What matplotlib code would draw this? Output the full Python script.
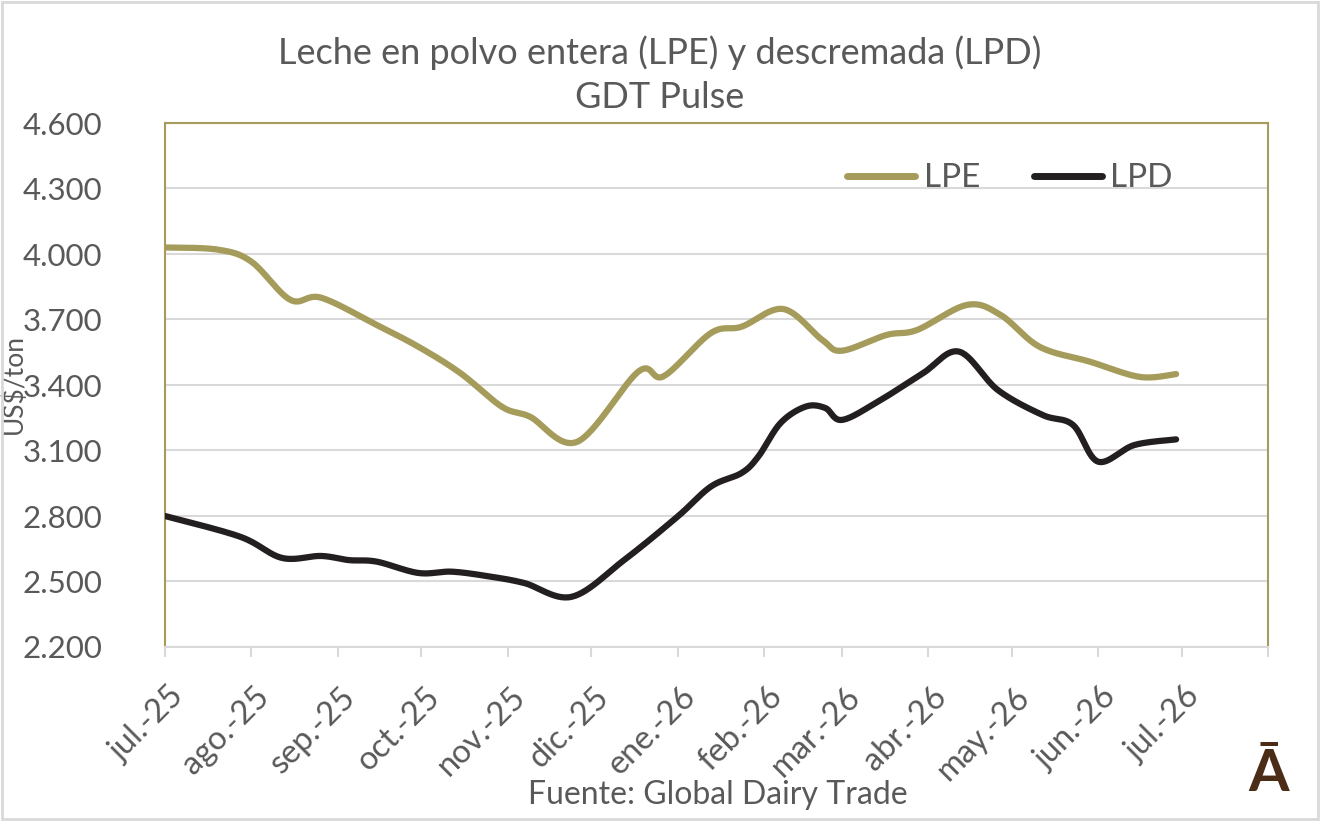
import numpy as np
import pandas as pd
import matplotlib
matplotlib.use("Agg")
import matplotlib.pyplot as plt
import matplotlib.dates as mdates
import matplotlib.transforms as mtransforms
from matplotlib.lines import Line2D

plt.rcParams['font.family'] = ['Lato', 'DejaVu Sans']

# ---------------- data ----------------
lpe_dates = ["2025-07-01", "2025-07-20", "2025-08-01", "2025-08-15", "2025-08-26",
             "2025-09-15", "2025-09-30", "2025-10-15", "2025-10-30", "2025-11-09",
             "2025-11-26", "2025-12-18", "2025-12-27", "2026-01-13", "2026-01-24",
             "2026-02-08", "2026-02-22", "2026-03-01", "2026-03-17", "2026-03-28",
             "2026-04-15", "2026-04-27", "2026-05-11", "2026-05-29", "2026-06-16",
             "2026-06-29"]
lpe_values = [4030, 4020, 3965, 3790, 3800,
              3675, 3575, 3455, 3300, 3255,
              3140, 3462, 3440, 3638, 3667,
              3748, 3606, 3557, 3629, 3652,
              3767, 3721, 3575, 3507, 3437,
              3450]

lpd_dates = ["2025-07-01", "2025-07-28", "2025-08-12", "2025-08-26", "2025-09-05",
             "2025-09-15", "2025-09-30", "2025-10-12", "2025-10-26", "2025-11-07",
             "2025-11-24", "2025-12-13", "2026-01-01", "2026-01-13", "2026-01-24",
             "2026-01-30", "2026-02-07", "2026-02-16", "2026-02-23", "2026-03-01",
             "2026-03-14", "2026-03-30", "2026-04-12", "2026-04-26", "2026-05-12",
             "2026-05-23", "2026-06-01", "2026-06-14", "2026-06-29"]
lpd_values = [2800, 2705, 2608, 2617, 2598,
              2591, 2539, 2545, 2522, 2493,
              2430, 2600, 2797, 2935, 2997,
              3072, 3226, 3301, 3295, 3240,
              3324, 3453, 3553, 3377, 3263,
              3217, 3049, 3125, 3151]

tick_labels = ["jul.-25", "ago.-25", "sep.-25", "oct.-25", "nov.-25", "dic.-25",
               "ene.-26", "feb.-26", "mar.-26", "abr.-26", "may.-26", "jun.-26",
               "jul.-26", ""]

series_names = ["LPE", "LPD"]
title_text = "Leche en polvo entera (LPE) y descremada (LPD)\nGDT Pulse"
ylabel_text = "US$/ton"
source_text = "Fuente: Global Dairy Trade"

# ---------------- style ----------------
C_LPE = "#A59B5B"
C_LPD = "#231F20"
C_TXT = "#595959"
C_GRID = "#D9D9D9"
C_SPINE = "#A59B5B"


def smooth_curve(dates, values, n=30):
    """Excel-like smoothed line (cubic Bezier, tension 1/6) in screen-like space."""
    x = mdates.date2num(pd.to_datetime(dates))
    y = np.asarray(values, dtype=float)
    sx, sy = 2.789, 0.2183
    P = np.column_stack([x * sx, y * sy])
    xs, ys = [], []
    t = np.linspace(0, 1, n)[:, None]
    for i in range(len(P) - 1):
        p0 = P[i - 1] if i > 0 else P[i]
        p1 = P[i]
        p2 = P[i + 1]
        p3 = P[i + 2] if i + 2 < len(P) else P[i + 1]
        c1 = p1 + (p2 - p0) / 6.0
        c2 = p2 - (p3 - p1) / 6.0
        B = ((1 - t) ** 3) * p1 + 3 * ((1 - t) ** 2) * t * c1 + 3 * (1 - t) * t ** 2 * c2 + t ** 3 * p2
        if i > 0:
            B = B[1:]
        xs.append(B[:, 0] / sx)
        ys.append(B[:, 1] / sy)
    return np.concatenate(xs), np.concatenate(ys)


fig = plt.figure(figsize=(13.2, 8.21), dpi=100)
ax = fig.add_axes([165 / 1320, 1 - 647 / 821, (1268 - 165) / 1320, (647 - 123) / 821])

x1, y1 = smooth_curve(lpe_dates, lpe_values)
x2, y2 = smooth_curve(lpd_dates, lpd_values)
ax.plot(x1, y1, color=C_LPE, lw=4.5, solid_capstyle='round', zorder=3)
ax.plot(x2, y2, color=C_LPD, lw=4.5, solid_capstyle='round', zorder=3)

ax.set_ylim(2200, 4600)
ax.set_yticks(np.arange(2200, 4601, 300))
ax.set_yticklabels([f"{v:,}".replace(",", ".") for v in range(2200, 4601, 300)])
ax.grid(axis='y', color=C_GRID, lw=1.5, zorder=0)

ticks = pd.date_range("2025-07-01", "2026-08-01", freq="MS")
ax.set_xlim(mdates.date2num(ticks[0]), mdates.date2num(ticks[-1]))
ax.set_xticks(mdates.date2num(ticks))
ax.set_xticklabels(tick_labels, rotation=45, ha='right', va='top', rotation_mode='anchor')

ax.tick_params(axis='y', length=0, labelsize=22.5, labelcolor=C_TXT, pad=45)
ax.tick_params(axis='x', length=7, width=1.5, color=C_GRID, direction='out',
               labelsize=23.5, labelcolor=C_TXT, pad=18)
shift = mtransforms.ScaledTranslation(3 / 100, 0, fig.dpi_scale_trans)
for lab in ax.get_xticklabels():
    lab.set_rotation_mode('anchor')
    lab.set_transform(lab.get_transform() + shift)

for s in ['left', 'top', 'right']:
    ax.spines[s].set_color(C_SPINE)
    ax.spines[s].set_linewidth(1.5)
ax.spines['bottom'].set_color(C_GRID)
ax.spines['bottom'].set_linewidth(1.5)

for lab in ax.get_yticklabels():
    lab.set_ha('right')

ax.set_ylabel(ylabel_text, fontsize=19, color=C_TXT)
ax.yaxis.set_label_coords((27 - 165) / (1268 - 165), (647 - 384) / (647 - 123))

handles = [Line2D([0], [0], color=C_LPE, lw=5, solid_capstyle='round'),
           Line2D([0], [0], color=C_LPD, lw=5, solid_capstyle='round')]
leg = ax.legend(handles, series_names, loc='upper right', ncol=2, frameon=False,
                fontsize=24, handlelength=2.05, handletextpad=0.25, columnspacing=1.6,
                bbox_to_anchor=(1186 / 1320, 1 - 150 / 821), bbox_transform=fig.transFigure,
                borderaxespad=0)
for t in leg.get_texts():
    t.set_color(C_TXT)

fig.text(660 / 1320, 1 - 75 / 821, title_text, ha='center', va='center', fontsize=26,
         color=C_TXT, linespacing=1.4)
fig.text(718 / 1320, 1 - 795 / 821, source_text, ha='center', va='center', fontsize=23,
         color=C_TXT)
fig.text(1269 / 1320, 1 - 774 / 821, "\u0100", ha='center', va='center', fontsize=42,
         fontweight='bold', color="#4A2C17")

# outer border
fig.patches.append(plt.Rectangle((0.0015, 0.002), 0.997, 0.996, transform=fig.transFigure,
                                 fill=False, edgecolor="#D9D9D9", lw=2))

fig.savefig("out.png", dpi=100)
